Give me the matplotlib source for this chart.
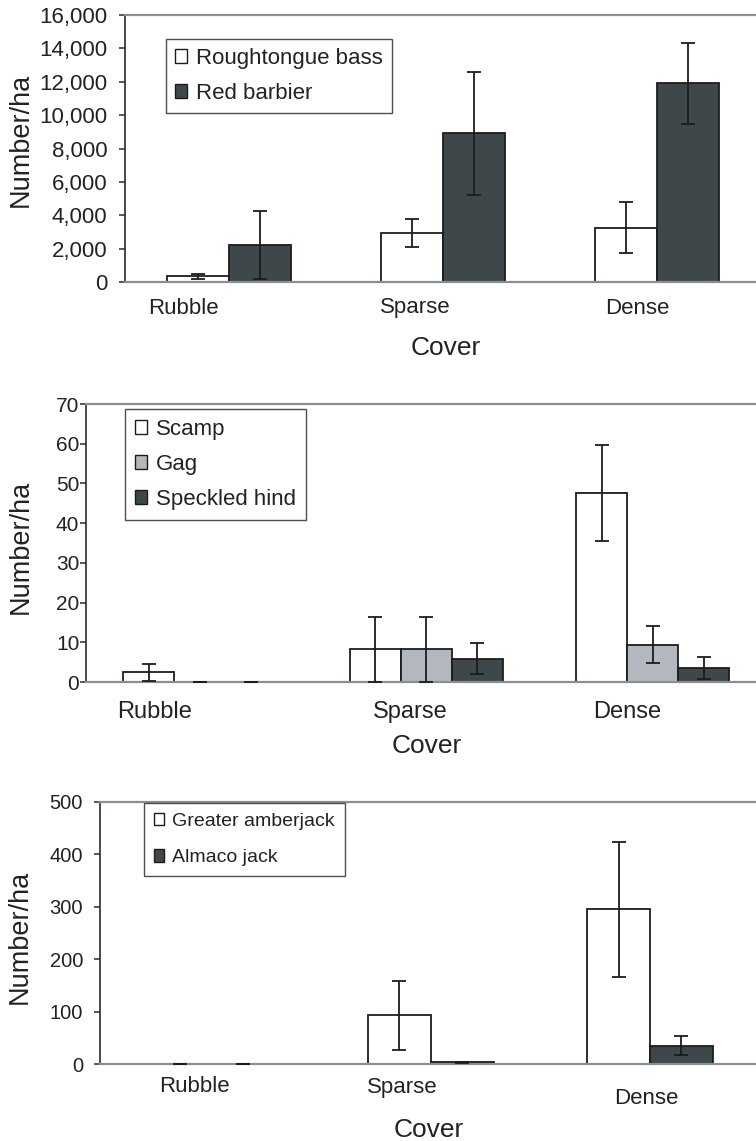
import matplotlib
matplotlib.use("Agg")
import matplotlib.pyplot as plt
from matplotlib.ticker import FuncFormatter
from matplotlib.transforms import blended_transform_factory
import numpy as np

plt.rcParams['font.family'] = ['Liberation Sans', 'DejaVu Sans']

covers = ["Rubble", "Sparse", "Dense"]

# top panel
roughtongue = [330, 2920, 3250]
roughtongue_err = [130, 830, 1520]
red_barbier = [2200, 8900, 11900]
red_barbier_err = [2030, 3700, 2450]

# middle panel
scamp = [2.4, 8.2, 47.5]
scamp_err = [2.1, 8.1, 12.1]
gag = [0, 8.2, 9.4]
gag_err = [0, 8.1, 4.7]
speckled = [0, 5.8, 3.6]
speckled_err = [0, 3.9, 2.8]

# bottom panel
amberjack = [0, 93, 295]
amberjack_err = [0, 66, 129]
almaco = [0, 3, 35]
almaco_err = [0, 1, 18]

WHITE = "#ffffff"
GREY = "#b3b8bf"
DARK = "#3e4749"
EDGE = "#1c1c1c"
AXGREY = "#8a8f97"

W, H = 756, 1141
fig = plt.figure(figsize=(W / 100, H / 100), dpi=100)


def px_axes(left, top, right, bottom):
    return fig.add_axes([left / W, 1 - bottom / H, (right - left) / W, (bottom - top) / H])


def style(ax, ymax, step, tick_size, pad, fmt=None):
    ax.set_ylim(0, ymax)
    ax.set_yticks(np.arange(0, ymax + 1, step))
    if fmt:
        ax.yaxis.set_major_formatter(FuncFormatter(fmt))
    ax.set_xticks([])
    ax.spines['right'].set_visible(False)
    ax.spines['top'].set_color(AXGREY)
    ax.spines['top'].set_linewidth(1.6)
    ax.spines['bottom'].set_color(AXGREY)
    ax.spines['bottom'].set_linewidth(1.6)
    ax.spines['left'].set_color("#2a2a2a")
    ax.spines['left'].set_linewidth(1.2)
    ax.tick_params(axis='y', length=4.3, width=1.1, color="#2a2a2a",
                   labelsize=tick_size, pad=pad, labelcolor="#222222")


def draw_group(ax, series, errs, colors, names, width):
    n = len(series)
    x = np.arange(len(covers))
    handles = []
    for k in range(n):
        pos = x + (k - (n - 1) / 2) * width
        vals = np.array(series[k], dtype=float)
        lw = np.where(vals > 0, 1.3, 0.0)
        b = ax.bar(pos, vals, width, color=colors[k], edgecolor=EDGE,
                   linewidth=lw, label=names[k], zorder=2)
        ax.errorbar(pos, vals, yerr=errs[k], fmt='none', ecolor=EDGE,
                    elinewidth=1.3, capsize=5, capthick=1.3, zorder=3)
        handles.append(b)
    return handles


def legend(ax, handles, names, left, top, size, spacing, pad):
    leg = ax.legend(handles, names, loc='upper left',
                    bbox_to_anchor=(left / W, 1 - top / H),
                    bbox_transform=fig.transFigure, borderaxespad=0,
                    fontsize=size, frameon=True, fancybox=False,
                    handlelength=0.55, handleheight=0.6, handletextpad=0.4,
                    labelspacing=spacing, borderpad=pad)
    leg.get_frame().set_edgecolor("#222222")
    leg.get_frame().set_linewidth(1.0)
    for p in leg.get_patches():
        p.set_linewidth(1.0)
    for t in leg.get_texts():
        t.set_color("#222222")


def labels(ax, offsets, ys, size, cover_xy, ylab_xy):
    tr = blended_transform_factory(ax.transData, fig.transFigure)
    for i, name in enumerate(covers):
        ax.text(i + offsets[i], 1 - ys[i] / H, name, transform=tr,
                ha='center', va='center', fontsize=size, color="#222222")
    fig.text(cover_xy[0] / W, 1 - cover_xy[1] / H, "Cover", ha='center',
             va='center', fontsize=19, color="#222222")
    fig.text(ylab_xy[0] / W, 1 - ylab_xy[1] / H, "Number/ha", ha='center',
             va='center', rotation=90, fontsize=19.5, color="#222222")


# ---- top panel
ax1 = px_axes(125, 15, 756, 282)
ax1.set_xlim(-0.486, 2.463)
style(ax1, 16000, 2000, 16, 8.5, lambda v, p: f"{v:,.0f}")
h1 = draw_group(ax1, [roughtongue, red_barbier], [roughtongue_err, red_barbier_err],
                [WHITE, DARK], ["Roughtongue bass", "Red barbier"], 0.29)
legend(ax1, h1, ["Roughtongue bass", "Red barbier"], 166, 39, 16, 0.62, 0.4)
labels(ax1, [-0.215, -0.13, -0.09], [308, 308, 308], 16, (446, 348), (21, 140))

# ---- middle panel
ax2 = px_axes(86, 404, 756, 682)
ax2.set_xlim(-0.503, 2.455)
style(ax2, 70, 10, 15, 0.5)
h2 = draw_group(ax2, [scamp, gag, speckled], [scamp_err, gag_err, speckled_err],
                [WHITE, GREY, DARK], ["Scamp", "Gag", "Speckled hind"], 0.225)
legend(ax2, h2, ["Scamp", "Gag", "Speckled hind"], 125, 409, 16, 0.62, 0.45)
labels(ax2, [-0.2, -0.07, -0.115], [712, 712, 712], 17, (427, 746), (21, 547))

# ---- bottom panel
ax3 = px_axes(100, 802, 756, 1064)
ax3.set_xlim(-0.506, 2.483)
style(ax3, 500, 100, 14.5, 8)
h3 = draw_group(ax3, [amberjack, almaco], [amberjack_err, almaco_err],
                [WHITE, DARK], ["Greater amberjack", "Almaco jack"], 0.287)
legend(ax3, h3, ["Greater amberjack", "Almaco jack"], 144, 803, 14, 1.0, 0.5)
labels(ax3, [-0.075, -0.13, -0.015], [1087, 1087, 1099], 16, (429, 1130), (20, 937))

fig.savefig("out.png", dpi=100)
